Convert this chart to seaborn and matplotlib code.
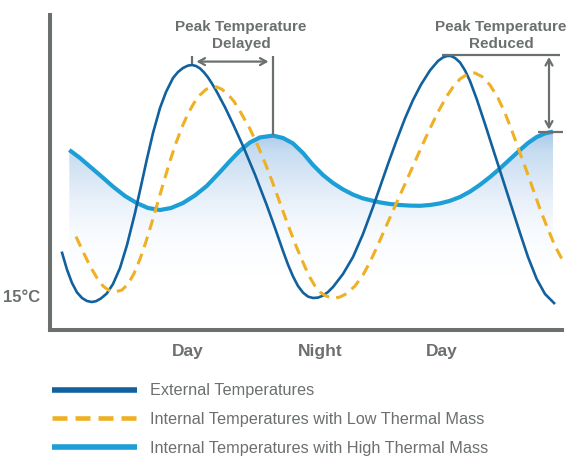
import numpy as np
import pandas as pd
import matplotlib
matplotlib.use("Agg")
import matplotlib.pyplot as plt
from matplotlib.lines import Line2D
from matplotlib.colors import LinearSegmentedColormap
import seaborn as sns

# ---------------- data (hours, °C) ----------------
ext_x = [1.17, 1.7, 2.2, 2.7, 3.2, 3.7, 4.17, 4.6, 5.1, 5.67, 6.3, 7.0, 7.7, 8.5, 9.1,
         9.67, 10.3, 11.0, 11.6, 12.3, 12.8, 13.3, 13.8, 14.2, 14.6, 15.0, 15.4, 15.8,
         16.2, 16.67, 17.5, 18.3, 19.3, 20.5, 21.67, 22.5, 23.3, 23.8, 24.3, 24.8, 25.3,
         25.8, 26.3, 26.8, 27.3, 27.8, 28.3, 29.3, 30.3, 31.3, 32.3, 33.0, 33.8, 34.67,
         35.5, 36.3, 37.1, 38.0, 38.8, 39.3, 39.7, 40.1, 40.5, 41.0, 41.5, 42.0, 42.67,
         43.5, 44.3, 45.3, 46.1, 47.0, 47.8, 48.67, 49.5, 50.5]
ext_y = [17.22, 16.32, 15.65, 15.18, 14.9, 14.75, 14.7, 14.74, 14.88, 15.12, 15.6, 16.4,
         17.55, 19.15, 20.5, 21.8, 23.15, 24.4, 25.2, 25.9, 26.2, 26.4, 26.52, 26.55,
         26.5, 26.38, 26.18, 25.93, 25.62, 25.22, 24.44, 23.6, 22.5, 21.07, 19.55, 18.4,
         17.25, 16.57, 15.98, 15.5, 15.17, 14.97, 14.9, 14.92, 15.02, 15.2, 15.45, 16.1,
         16.95, 18.1, 19.45, 20.45, 21.6, 22.8, 23.88, 24.8, 25.57, 26.28, 26.75, 26.93,
         27.0, 27.0, 26.9, 26.68, 26.28, 25.75, 24.85, 23.6, 22.35, 20.8, 19.55, 18.15,
         16.95, 15.85, 15.1, 14.6]

low_x = [2.6, 3.3, 4.0, 4.7, 5.3, 5.9, 6.5, 7.2, 7.8, 8.4, 9.0, 9.6, 10.2, 10.8, 11.4,
         12.0, 12.6, 13.2, 13.8, 14.4, 15.0, 15.6, 16.2, 16.7, 17.2, 17.8, 18.4, 19.1,
         20.0, 20.8, 21.67, 22.3, 23.0, 23.8, 24.67, 25.5, 26.0, 26.5, 27.0, 27.5, 28.0,
         28.5, 29.0, 29.67, 30.5, 31.3, 32.0, 32.67, 33.8, 34.67, 35.5, 36.3, 37.1, 38.0,
         38.8, 39.67, 40.3, 41.0, 41.7, 42.1, 42.5, 43.2, 44.0, 44.8, 45.5, 46.2, 47.0,
         47.7, 48.33, 49.0, 49.67, 50.5, 51.33]
low_y = [17.97, 17.22, 16.5, 15.9, 15.5, 15.28, 15.2, 15.3, 15.6, 16.12, 16.85, 17.72,
         18.7, 19.72, 20.75, 21.75, 22.65, 23.45, 24.12, 24.65, 25.05, 25.33, 25.45,
         25.45, 25.33, 25.08, 24.73, 24.15, 23.35, 22.5, 21.45, 20.62, 19.65, 18.55,
         17.42, 16.45, 15.92, 15.5, 15.2, 15.02, 14.93, 14.9, 14.95, 15.12, 15.5, 16.05,
         16.7, 17.42, 18.7, 19.68, 20.6, 21.5, 22.4, 23.38, 24.2, 24.98, 25.45, 25.85,
         26.08, 26.15, 26.15, 25.97, 25.55, 24.9, 24.15, 23.25, 22.15, 21.2, 20.3, 19.35,
         18.5, 17.5, 16.72]

high_x = [1.93, 3.0, 4.0, 5.1, 6.3, 7.5, 8.67, 9.8, 11.0, 12.1, 13.3, 14.5, 15.67, 17.0,
          18.0, 19.0, 20.0, 21.0, 22.3, 23.3, 24.3, 25.3, 26.3, 27.3, 28.3, 29.3, 30.3,
          31.3, 32.3, 33.0, 34.0, 35.0, 36.0, 37.0, 38.0, 39.0, 40.0, 41.0, 42.0, 43.0,
          44.0, 45.0, 46.0, 47.0, 47.8, 48.67, 49.5, 50.3]
high_y = [22.3, 21.9, 21.47, 21.0, 20.47, 20.0, 19.65, 19.4, 19.3, 19.4, 19.65, 20.03,
          20.5, 21.2, 21.75, 22.27, 22.68, 22.93, 23.02, 22.9, 22.63, 22.15, 21.55, 21.05,
          20.65, 20.33, 20.07, 19.88, 19.76, 19.68, 19.6, 19.55, 19.52, 19.51, 19.55,
          19.63, 19.76, 19.95, 20.22, 20.56, 20.95, 21.38, 21.84, 22.3, 22.65, 22.95,
          23.13, 23.22]

series_labels = ["External Temperatures",
                 "Internal Temperatures with Low Thermal Mass",
                 "Internal Temperatures with High Thermal Mass"]
xtick_pos = [13.8, 27.0, 39.2]
xtick_labels = ["Day", "Night", "Day"]
ytick_pos = [15]
ytick_labels = ["15°C"]
note_delayed = "Peak Temperature\nDelayed"
note_reduced = "Peak Temperature\nReduced"

# ---------------- style ----------------
sns.set_style("white")
plt.rcParams["font.family"] = ["Liberation Sans", "DejaVu Sans"]

C_EXT = "#12619f"
C_LOW = "#efb023"
C_HIGH = "#1c9fd6"
C_GRAY = "#6b706e"

W, H = 583, 474
fig = plt.figure(figsize=(W / 100, H / 100), dpi=100)
ax = fig.add_axes([50 / W, (H - 330) / H, 512 / W, 315 / H])

XLIM = (0, 51.2)
YLIM = (13.3, 29.05)

# gradient fill under high thermal mass curve
poly = ax.fill_between(high_x, high_y, YLIM[0], facecolor="none", edgecolor="none")
cmap = LinearSegmentedColormap.from_list(
    "g", [(0.0, "#ffffff"), (0.3, "#f8fbfe"), (0.55, "#e6eff9"),
          (0.86, "#c6dcf1"), (1.0, "#a4c7e8")])
grad = np.linspace(0, 1, 256).reshape(-1, 1)
im = ax.imshow(grad, extent=[min(high_x), max(high_x), 16.0, 23.3], origin="lower",
               aspect="auto", cmap=cmap, zorder=1, interpolation="bilinear")
im.set_clip_path(poly.get_paths()[0], transform=ax.transData)

df_high = pd.DataFrame({"x": high_x, "y": high_y})
df_ext = pd.DataFrame({"x": ext_x, "y": ext_y})
df_low = pd.DataFrame({"x": low_x, "y": low_y})

sns.lineplot(data=df_high, x="x", y="y", ax=ax, color=C_HIGH, lw=3.0, sort=False,
             zorder=3, clip_on=False, solid_joinstyle="round", solid_capstyle="butt")
sns.lineplot(data=df_ext, x="x", y="y", ax=ax, color=C_EXT, lw=1.9, sort=False,
             zorder=4, clip_on=False, solid_joinstyle="round", solid_capstyle="butt")
sns.lineplot(data=df_low, x="x", y="y", ax=ax, color=C_LOW, lw=2.2, sort=False,
             zorder=5, clip_on=False, dashes=False)
ax.lines[-1].set_dashes((3.6, 2.3))

ax.set_xlim(*XLIM)
ax.set_ylim(*YLIM)
ax.set_xlabel("")
ax.set_ylabel("")

for s in ["top", "right"]:
    ax.spines[s].set_visible(False)
for s in ["left", "bottom"]:
    ax.spines[s].set_linewidth(2.9)
    ax.spines[s].set_color(C_GRAY)
    ax.spines[s].set_capstyle("projecting")

ax.set_xticks(xtick_pos)
ax.set_xticklabels(xtick_labels, fontsize=12.5, fontweight="bold", color=C_GRAY)
ax.set_yticks(ytick_pos)
ax.set_yticklabels(ytick_labels, fontsize=12, fontweight="bold", color=C_GRAY)
ax.tick_params(axis="x", length=0, pad=10)
ax.tick_params(axis="y", length=0, pad=7)

# ---------------- annotations derived from the data ----------------
ext_x_a = np.array(ext_x); ext_y_a = np.array(ext_y)
high_x_a = np.array(high_x); high_y_a = np.array(high_y)
i_e1 = np.argmax(np.where(ext_x_a < 25, ext_y_a, -np.inf))
i_e2 = np.argmax(ext_y_a)
i_h1 = np.argmax(np.where(high_x_a < 30, high_y_a, -np.inf))

top_level = ext_y_a[i_e2]
ann_kw = dict(color=C_GRAY, lw=1.6, zorder=6, solid_capstyle="butt")
arrow_style = "<->,head_length=0.45,head_width=0.25"

# delayed
ax.plot([ext_x_a[i_e1]] * 2, [ext_y_a[i_e1] + 0.05, top_level], **ann_kw)
ax.plot([high_x_a[i_h1]] * 2, [high_y_a[i_h1] + 0.05, top_level], **ann_kw)
ax.annotate("", xy=(high_x_a[i_h1] - 0.45, 26.72), xytext=(ext_x_a[i_e1] + 0.45, 26.72),
            arrowprops=dict(arrowstyle=arrow_style, color=C_GRAY, lw=1.6,
                            shrinkA=0, shrinkB=0), zorder=6)
ax.text(19.1, 28.03, note_delayed, ha="center", va="center", fontsize=11,
        fontweight="bold", color=C_GRAY, linespacing=1.32)

# reduced
ax.plot([ext_x_a[i_e2] - 0.5, 51.0], [top_level + 0.05] * 2, clip_on=False, **ann_kw)
ax.plot([high_x_a[-1] - 1.5, 51.3], [high_y_a[-1]] * 2, clip_on=False, **ann_kw)
ax.annotate("", xy=(49.9, high_y_a[-1] + 0.1), xytext=(49.9, top_level - 0.05),
            arrowprops=dict(arrowstyle=arrow_style, color=C_GRAY, lw=1.6,
                            shrinkA=0, shrinkB=0),
            zorder=6, annotation_clip=False)
ax.text(45.1, 28.03, note_reduced, ha="center", va="center", fontsize=11,
        fontweight="bold", color=C_GRAY, linespacing=1.32)

# ---------------- legend ----------------
handles = [Line2D([], [], color=C_EXT, lw=4.0, solid_capstyle="butt"),
           Line2D([], [], color=C_LOW, lw=3.3, dashes=(3.27, 1.75), dash_capstyle="butt"),
           Line2D([], [], color=C_HIGH, lw=4.0, solid_capstyle="butt")]
fig.legend(handles, series_labels, loc="upper left",
           bbox_to_anchor=(51.5 / W, (H - 383.5) / H), frameon=False, fontsize=11.7,
           handlelength=5.27, handletextpad=0.82, labelspacing=0.84, borderpad=0,
           borderaxespad=0, labelcolor=C_GRAY)

fig.savefig("out.png", dpi=100)
